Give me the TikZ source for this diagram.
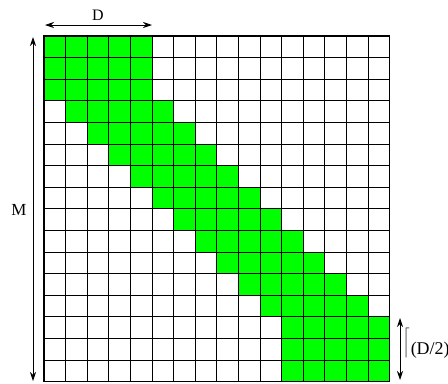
\documentclass[tikz,border=0pt]{standalone}
\usepackage{fontspec}
\setmainfont{Liberation Serif}
\usetikzlibrary{arrows.meta}
\begin{document}
\begin{tikzpicture}[x=1bp,y=-1bp,
  cellfill/.style={fill={rgb,255:red,0;green,255;blue,0}},
  gridline/.style={draw=black,line width=0.8bp},
  dimarrow/.style={{Stealth[length=9bp,width=6bp]}-{Stealth[length=9bp,width=6bp]}, line width=0.8bp},
  lab/.style={font=\fontsize{16}{19}\selectfont, inner sep=0pt}]
\useasboundingbox (0,0) rectangle (448,383);
\def\cs{21.6}
\foreach \r in {0,...,15} {
  \pgfmathtruncatemacro\s{min(max(\r-2,0),11)}
  \foreach \c in {0,...,4} {
    \fill[cellfill] ({44+(\s+\c)*\cs},{36+\r*\cs}) rectangle ++(\cs,\cs);
  }
}
\foreach \i in {0,...,16} {
  \draw[gridline] ({44+\i*\cs},36) -- ({44+\i*\cs},381.6);
  \draw[gridline] (44,{36+\i*\cs}) -- (389.6,{36+\i*\cs});
}
\draw[line width=1.2bp] (44,36) rectangle (389.6,381.6);
% D arrow
\coordinate (dL) at (45,25);
\coordinate (dR) at (152,25);
\draw[dimarrow] (dL) -- (dR);
\node[lab] (dlab) at (98,15) {D};
% M arrow
\coordinate (mT) at (33,37);
\coordinate (mB) at (33,381);
\draw[dimarrow] (mT) -- (mB);
\node[lab,font=\fontsize{17}{20}\selectfont] (mlab) at (19,210) {M};
% half arrow
\coordinate (hT) at (400,318);
\coordinate (hB) at (400,380);
\draw[dimarrow] (hT) -- (hB);
\node[lab,font=\fontsize{18}{21}\selectfont,anchor=base west] (hlab) at (403,354)
  {\raisebox{6.5bp}{$\left\lceil\rule[-11.5bp]{0pt}{32bp}\right.$}(D/2)\raisebox{6.5bp}{$\left.\rule[-11.5bp]{0pt}{32bp}\right\rceil$}};
\end{tikzpicture}
\end{document}
